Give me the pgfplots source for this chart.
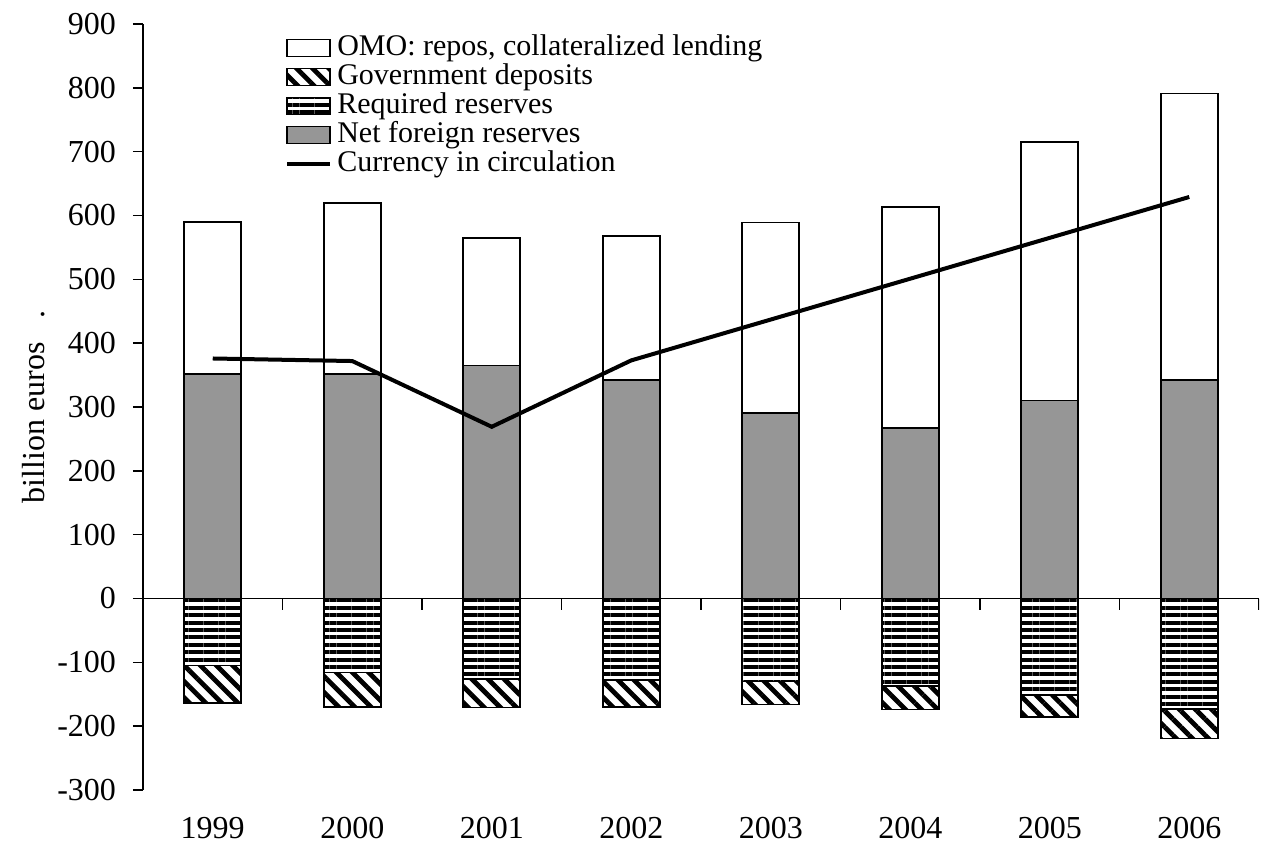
\documentclass[border=0pt]{standalone}
\usepackage{fontspec}
\setmainfont{Liberation Serif}
\usepackage{pgfplots}
\pgfplotsset{compat=1.18}
\usetikzlibrary{patterns.meta}
\definecolor{nfr}{RGB}{150,150,150}
\tikzset{
  govpat/.style={fill=white, postaction={pattern={Lines[angle=-45,distance=5.7pt,line width=2.4pt]}}},
  reqpat/.style={fill=white, postaction={pattern={Lines[angle=0,distance=3.7pt,line width=2pt]}}},
}
\pgfplotsset{
  mybox/.style={legend image code/.code={\draw[##1] (0pt,-4.25pt) rectangle (21.5pt,4.25pt);}},
  myline/.style={legend image code/.code={\draw[##1] (0pt,0pt) -- (21.5pt,0pt);}},
}
\begin{document}
\begin{tikzpicture}
\begin{axis}[
  scale only axis, width=558pt, height=383pt,
  xmin=0.5, xmax=8.5, ymin=-300, ymax=900,
  axis y line=left, axis x line=bottom,
  x axis line style={draw=none},
  y axis line style={-, line width=0.8pt},
  xtick={1,2,3,4,5,6,7,8},
  xticklabels={1999,2000,2001,2002,2003,2004,2005,2006},
  x tick style={draw=none},
  ytick={-300,-200,-100,0,100,200,300,400,500,600,700,800,900},
  yticklabels={-300,-200,-100,0,100,200,300,400,500,600,700,800,900},
  ytick align=outside, major tick length=5pt,
  y tick style={line width=0.8pt, black},
  tick label style={font=\fontsize{16}{19}\selectfont},
  xticklabel style={yshift=-7.5pt},
  yticklabel style={xshift=-5pt},
  every axis y label/.style={at={(axis description cs:-0.088,0.5)}, rotate=90, anchor=base},
  ylabel={\fontsize{16}{19}\selectfont billion euros\hspace{0.75em}.},
  bar width=28.5pt,
  legend cell align=left,
  legend style={at={(0.127,0.987)}, anchor=north west, draw=none, fill=none,
    font=\fontsize{15}{18}\selectfont, inner sep=0pt, row sep=1pt,
    nodes={inner sep=0pt, text height=10.5pt, text depth=3pt},
    /tikz/every odd column/.append style={column sep=2.6pt}},
]
% total assets (top of OMO block)
\addplot[ybar, bar shift=0pt, fill=white, draw=black, line width=0.8pt, forget plot]
  coordinates {(1,590)(2,620)(3,565)(4,568)(5,589)(6,613)(7,715)(8,791)};
% net foreign reserves
\addplot[ybar, bar shift=0pt, fill=nfr, draw=black, line width=0.8pt, forget plot]
  coordinates {(1,352)(2,352)(3,365)(4,342)(5,291)(6,267)(7,310)(8,342)};
% bottom of government deposits block
\addplot[ybar, bar shift=0pt, govpat, draw=black, line width=0.8pt, forget plot]
  coordinates {(1,-164)(2,-170)(3,-171)(4,-170)(5,-166)(6,-174)(7,-186)(8,-219)};
% required reserves
\addplot[ybar, bar shift=0pt, reqpat, draw=black, line width=0.8pt, forget plot]
  coordinates {(1,-105)(2,-116)(3,-126)(4,-128)(5,-130)(6,-137)(7,-151)(8,-173)};
% currency in circulation
\addplot[sharp plot, black, line width=2pt, mark=none, forget plot]
  coordinates {(1,376)(2,372)(3,269)(4,373)(5,437)(6,501)(7,565)(8,629)};
\draw[black, line width=0.8pt] (axis cs:0.5,0) -- (axis cs:8.5,0);
\pgfplotsinvokeforeach{1.5,2.5,3.5,4.5,5.5,6.5,7.5,8.5}{
  \draw[black, line width=0.8pt] (axis cs:#1,0) -- ++(0pt,-5.5pt);
}
\coordinate (sw) at (rel axis cs:0,0);
\coordinate (ne) at (rel axis cs:1,1);
\addlegendimage{mybox, fill=white, draw=black, line width=0.8pt}
\addlegendentry{OMO: repos, collateralized lending}
\addlegendimage{mybox, govpat, draw=black, line width=0.8pt}
\addlegendentry{Government deposits}
\addlegendimage{mybox, reqpat, draw=black, line width=0.8pt}
\addlegendentry{Required reserves}
\addlegendimage{mybox, fill=nfr, draw=black, line width=0.8pt}
\addlegendentry{Net foreign reserves}
\addlegendimage{myline, black, line width=2pt}
\addlegendentry{Currency in circulation}
\end{axis}
\pgfresetboundingbox
\path (sw) ++(-71.5pt,-31pt) rectangle ([shift={(1pt,12pt)}]ne);
\end{tikzpicture}
\end{document}
